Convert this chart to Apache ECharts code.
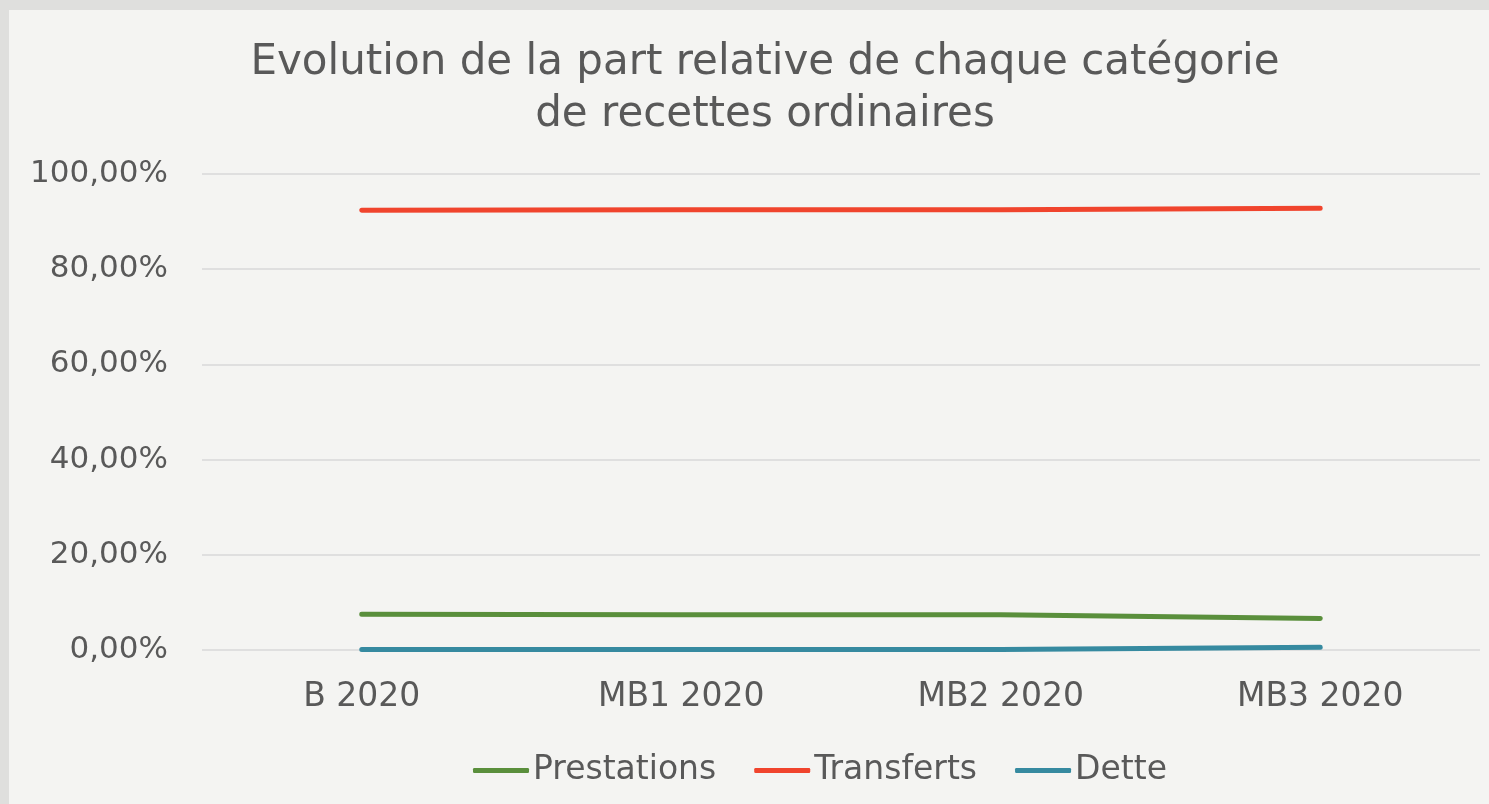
<!DOCTYPE html>
<html>
<head>
<meta charset="utf-8">
<script src="https://cdn.jsdelivr.net/npm/echarts@6/dist/echarts.min.js"></script>
<style>
  html, body { margin: 0; padding: 0; background: #dfdfdd; }
  #main { position: absolute; left: 9px; top: 10px; width: 1480px; height: 794px; background: #f4f4f2; }
</style>
</head>
<body>
<div id="main"></div>
<script>
// categories and series
const categories = ['B 2020', 'MB1 2020', 'MB2 2020', 'MB3 2020'];
const prestations = [7.5, 7.4, 7.4, 6.6];
const transferts = [92.4, 92.5, 92.5, 92.8];
const dette = [0.1, 0.1, 0.1, 0.6];

const font = 'DejaVu Sans';
const chart = echarts.init(document.getElementById('main'));
const line = (name, data, color) => ({
  name, type: 'line', data,
  symbol: 'none',
  lineStyle: { width: 5, color, cap: 'round' },
  itemStyle: { color }
});
chart.setOption({
  backgroundColor: '#f4f4f2',
  textStyle: { fontFamily: font },
  title: {
    text: 'Evolution de la part relative de chaque catégorie\nde recettes ordinaires',
    left: 751, top: 22, textAlign: 'center',
    textStyle: { fontSize: 42, fontWeight: 'normal', color: '#595959', lineHeight: 52, fontFamily: font }
  },
  legend: {
    data: ['Prestations', 'Transferts', 'Dette'],
    left: 459, top: 739,
    icon: 'roundRect', itemWidth: 56, itemHeight: 5, itemGap: 38,
    textStyle: { fontSize: 33, color: '#595959', fontFamily: font, padding: [0, 0, 0, -1] }
  },
  grid: { left: 193, right: 9, top: 164, bottom: 154, containLabel: false },
  xAxis: {
    type: 'category', data: categories, boundaryGap: true,
    axisLine: { show: false }, axisTick: { show: false },
    axisLabel: { fontSize: 33, color: '#595959', margin: 31 }
  },
  yAxis: {
    type: 'value', min: 0, max: 100, interval: 20,
    axisLine: { show: false }, axisTick: { show: false },
    splitLine: { lineStyle: { color: '#d9d9d9', width: 1.5 } },
    axisLabel: {
      fontSize: 31, color: '#595959', margin: 34,
      formatter: v => v.toFixed(2).replace('.', ',') + '%'
    }
  },
  series: [
    line('Prestations', prestations, '#5a8f3c'),
    line('Transferts', transferts, '#f0442d'),
    line('Dette', dette, '#368aa0')
  ]
});
</script>
</body>
</html>
